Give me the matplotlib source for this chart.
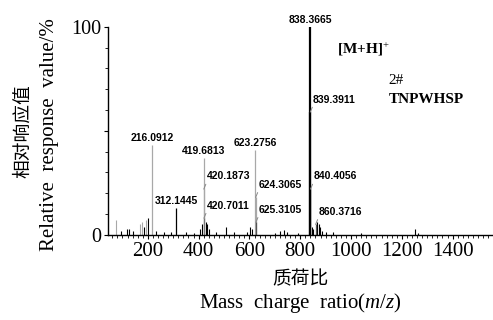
import matplotlib
matplotlib.use("Agg")
import matplotlib.pyplot as plt
from matplotlib.ticker import MultipleLocator, FixedLocator, FixedFormatter

plt.rcParams["mathtext.fontset"] = "custom"
plt.rcParams["mathtext.rm"] = "Liberation Serif"
plt.rcParams["mathtext.it"] = "Liberation Serif:italic"
plt.rcParams["mathtext.bf"] = "Liberation Serif:bold"

# labelled peaks: m/z, relative intensity (%), label style, colour
peak_mz = [216.0912, 312.1445, 419.6813, 420.1873, 420.7011,
           623.2756, 624.3065, 625.3105, 838.3665, 839.3911,
           840.4056, 860.3716]
peak_int = [43, 13, 37, 22, 8, 41, 18, 6, 100, 59, 22, 5]
peak_style = ["top", "top", "top", "lead", "lead",
              "top", "lead", "lead", "top", "lead", "lead", "lead"]
peak_color = ["#a8a8a8", "#000000", "#a8a8a8", "#a8a8a8", "#777777",
              "#a8a8a8", "#a8a8a8", "#555555", "#000000", "#000000",
              "#000000", "#555555"]

# small unlabelled peaks
minor_mz = [75, 96, 118, 126, 140, 170, 178, 186, 194, 200, 232, 262, 290,
            350, 380, 405, 412, 428, 433, 440, 470, 508, 540, 590, 602,
            612, 700, 722, 736, 748, 790, 846, 852, 866, 872, 878, 886,
            900, 930, 1040, 1252, 1262]
minor_int = [7, 2, 3, 3, 2, 5, 6, 4, 7, 8, 2, 1.5, 1.5,
             1.5, 1, 3, 5, 6, 5, 3, 1.5, 4, 1.5, 1.5, 4,
             3, 1, 2, 2.5, 1.5, 1, 4, 3, 6, 5, 4, 2,
             1.5, 1.5, 1, 3, 1]
minor_color = ["#a8a8a8", "#000000", "#000000", "#000000", "#000000",
               "#a8a8a8", "#a8a8a8", "#000000", "#a8a8a8", "#000000"] + ["#000000"] * 32

xtick_vals = [200, 400, 600, 800, 1000, 1200, 1400]

serif = "Liberation Serif"
sans = "Liberation Sans"
cjk = ["Noto Sans CJK SC", "DejaVu Sans"]

fig = plt.figure(figsize=(4.93, 3.2), dpi=100)
ax = fig.add_axes([0.219, 0.266, 0.781, 0.65])

ax.vlines(minor_mz, 0, minor_int, colors=minor_color, lw=0.8)
for mz, h, c in zip(peak_mz, peak_int, peak_color):
    lw = 1.6 if h >= 59 else 0.9
    ax.vlines(mz, 0, h, colors=c, lw=lw)

for mz, h, st in zip(peak_mz, peak_int, peak_style):
    label = f"{mz:.4f}"
    if st == "top":
        ax.annotate(label, (mz, h), xytext=(0, 1.5), textcoords="offset points",
                    ha="center", va="bottom", fontsize=7.5, fontweight="bold",
                    family=sans, annotation_clip=False)
    else:
        ax.annotate(label, (mz, h), xytext=(2, 5.5), textcoords="offset points",
                    ha="left", va="bottom", fontsize=7.5, fontweight="bold",
                    family=sans, annotation_clip=False,
                    arrowprops=dict(arrowstyle="-", color="#888888", lw=0.7,
                                    relpos=(0.02, 0.1), shrinkA=0, shrinkB=0))

ax.text(0.595, 0.89, r"[M+H]$^{+}$", transform=ax.transAxes, family=serif,
        fontsize=11, fontweight="bold", ha="left", va="center")
ax.text(0.728, 0.74, "2#", transform=ax.transAxes, family=serif,
        fontsize=11, ha="left", va="center")
ax.text(0.728, 0.65, "TNPWHSP", transform=ax.transAxes, family=serif,
        fontsize=11, fontweight="bold", ha="left", va="center")

ax.set_xlim(43, 1559)
ax.set_ylim(0, 100)

ax.spines["top"].set_visible(False)
ax.spines["right"].set_visible(False)
ax.spines["left"].set_linewidth(1.0)
ax.spines["bottom"].set_linewidth(1.0)

ax.xaxis.set_major_locator(FixedLocator(xtick_vals))
ax.xaxis.set_minor_locator(MultipleLocator(20))
ax.yaxis.set_major_locator(FixedLocator([0, 50, 100]))
ax.yaxis.set_major_formatter(FixedFormatter(["0", "", "100"]))
ax.yaxis.set_minor_locator(MultipleLocator(10))
ax.tick_params(axis="both", which="major", direction="out", length=3,
               width=0.8, pad=2)
ax.tick_params(axis="both", which="minor", direction="out", length=2,
               width=0.6)
for lab in ax.get_xticklabels():
    lab.set_family(serif)
    lab.set_fontsize(15)
for lab in ax.get_yticklabels():
    lab.set_family(serif)
    lab.set_fontsize(14.5)

# axis titles, Chinese above English
fig.text(0.61, 0.128, "质荷比", family=cjk, fontsize=13.5, ha="center", va="center")
fig.text(0.61, 0.053, r"Mass  charge  ratio($m$/$z$)", family=serif, fontsize=15,
         ha="center", va="center")
fig.text(0.045, 0.59, "相对响应值", family=cjk, fontsize=13.5, rotation=90,
         ha="center", va="center")
fig.text(0.100, 0.58, "Relative  response  value/%", family=serif, fontsize=15,
         rotation=90, ha="center", va="center")

fig.savefig("out.png", dpi=100)
